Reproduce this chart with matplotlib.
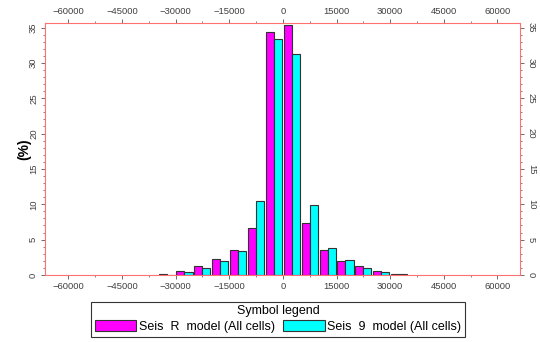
import numpy as np
import matplotlib
matplotlib.use('Agg')
import matplotlib.pyplot as plt
from matplotlib.ticker import MultipleLocator

plt.rcParams['font.family'] = ['Liberation Sans', 'DejaVu Sans']

# bin centres (5000 wide bins) and percentages per model
bin_centers = [-32500, -27500, -22500, -17500, -12500, -7500, -2500,
               2500, 7500, 12500, 17500, 22500, 27500, 32500]
seis_r = [0.1, 0.5, 1.2, 2.3, 3.6, 6.6, 34.35, 35.4, 7.35, 3.5, 2.0, 1.3, 0.6, 0.2]
seis_9 = [0.05, 0.35, 0.97, 2.0, 3.4, 10.4, 33.4, 31.2, 9.9, 3.8, 2.15, 0.97, 0.4, 0.1]
x_ticks = [-60000, -45000, -30000, -15000, 0, 15000, 30000, 45000, 60000]
y_ticks = [0, 5, 10, 15, 20, 25, 30, 35]
labels = ['Seis  R  model (All cells)', 'Seis  9  model (All cells)']

fig = plt.figure(figsize=(5.4, 3.42), dpi=100)
ax = fig.add_axes([0.0833, 0.196, 0.8797, 0.738])

w = 2250
centers = np.array(bin_centers)
b1 = ax.bar(centers - w / 2, seis_r, width=w, color='#ff00ff', edgecolor='#333333', linewidth=0.8, label=labels[0])
b2 = ax.bar(centers + w / 2, seis_9, width=w, color='#00ffff', edgecolor='#333333', linewidth=0.8, label=labels[1])

ax.set_xlim(-66500, 66300)
ax.set_ylim(0, 35.7)
ax.set_xticks(x_ticks)
ax.xaxis.set_minor_locator(MultipleLocator(7500))
ax.set_yticks(y_ticks)
ax.yaxis.set_minor_locator(MultipleLocator(1))

for s in ax.spines.values():
    s.set_color('#ff7070')
    s.set_linewidth(0.8)

ax.tick_params(axis='both', which='both', direction='out', colors='#555555', labelsize=6.8,
               top=True, right=True, labeltop=True, labelright=True, pad=2)
ax.tick_params(which='major', length=3, width=0.6)
ax.tick_params(which='minor', length=1.5, width=0.5)
for lab in ax.get_xticklabels():
    lab.set_color('#404040')
for lab in ax.get_yticklabels():
    lab.set_rotation(90)
    lab.set_va('center')
    lab.set_color('#404040')
for t in ax.yaxis.get_major_ticks():
    t.label2.set_rotation(-90)
    t.label2.set_va('center')
    t.label2.set_color('#404040')

ax.set_ylabel('(%)', fontsize=10, fontweight='bold')
ax.yaxis.set_label_coords(-0.028, 0.5)

leg = fig.legend(handles=[b1, b2], loc='upper center', bbox_to_anchor=(0.515, 0.118), ncol=2,
                 title='Symbol legend', fontsize=9, title_fontsize=9, frameon=True, fancybox=False,
                 edgecolor='black', handlelength=3.3, handleheight=1.0, handletextpad=0.2,
                 columnspacing=0.7, borderpad=0.3, labelspacing=0.2, borderaxespad=0)
leg.get_frame().set_linewidth(0.8)

fig.savefig('out.png', dpi=100)
